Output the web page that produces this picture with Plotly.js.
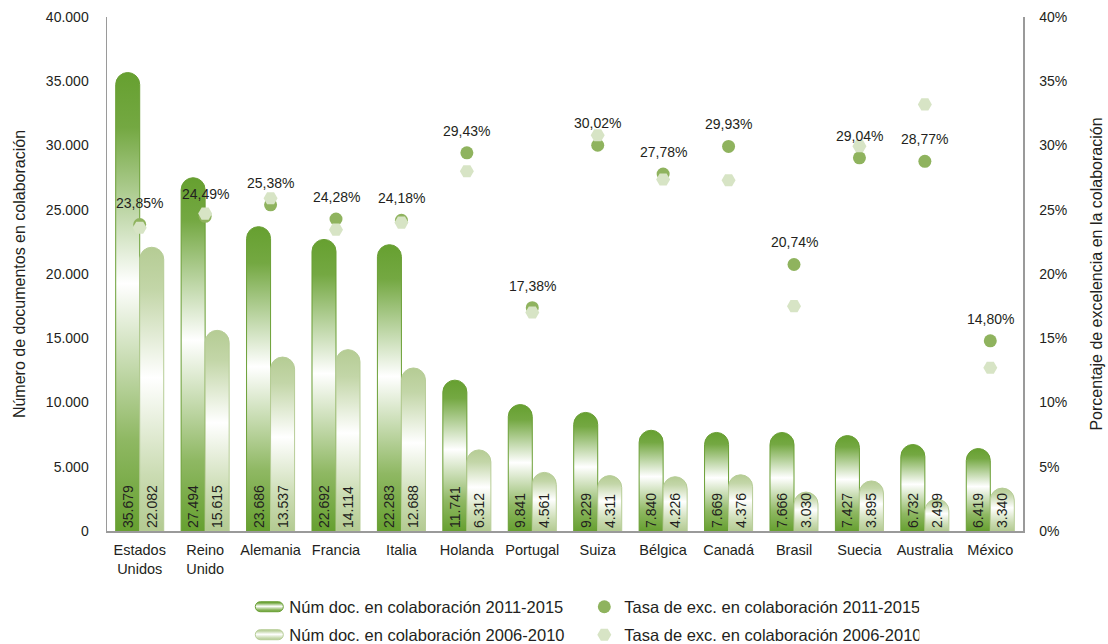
<!DOCTYPE html>
<html><head><meta charset="utf-8">
<script src="https://cdn.plot.ly/plotly-3.0.1.min.js"></script>
<style>html,body{margin:0;padding:0;background:#fff}#chart{width:1108px;height:644px}</style>
</head><body><div id="chart"></div>
<script>
const countries = ['Estados<br>Unidos','Reino<br>Unido','Alemania','Francia','Italia','Holanda','Portugal','Suiza','Bélgica','Canadá','Brasil','Suecia','Australia','México'];
const docs2011_2015 = [35679, 27494, 23686, 22692, 22283, 11741, 9841, 9229, 7840, 7669, 7666, 7427, 6732, 6419];
const docs2006_2010 = [22082, 15615, 13537, 14114, 12688, 6312, 4561, 4311, 4226, 4376, 3030, 3895, 2499, 3340];
const rate2011_2015 = [23.85, 24.49, 25.38, 24.28, 24.18, 29.43, 17.38, 30.02, 27.78, 29.93, 20.74, 29.04, 28.77, 14.80];
const rate2006_2010 = [23.6, 24.7, 25.9, 23.45, 24.0, 28.0, 17.0, 30.8, 27.35, 27.3, 17.5, 29.95, 33.2, 12.7];
const seriesNames = ['Núm doc. en colaboración 2011-2015','Tasa de exc. en colaboración 2011-2015','Núm doc. en colaboración 2006-2010','Tasa de exc. en colaboración 2006-2010'];

const FONT = 'Liberation Sans, Arial, sans-serif';
const TXT = '#231f20';

const traces = [
  {type:'bar', name:seriesNames[0], legend:'legend', x:countries, y:docs2011_2015, yaxis:'y',
   marker:{color:'#6a9f35', line:{color:'#6a9f35', width:1}, cornerradius:'50%'},
   texttemplate:'%{y:,d}', textposition:'inside', insidetextanchor:'start', textangle:-90,
   constraintext:'none', insidetextfont:{color:TXT, size:14, family:FONT}, hoverinfo:'skip'},
  {type:'scatter', mode:'markers', name:seriesNames[1], legend:'legend', x:countries, y:rate2011_2015, yaxis:'y2',
   marker:{color:'#8fb35e', size:13, symbol:'circle'}, hoverinfo:'skip'},
  {type:'bar', name:seriesNames[2], legend:'legend2', x:countries, y:docs2006_2010, yaxis:'y',
   marker:{color:'#b7cd97', line:{color:'#b7cd97', width:1}, cornerradius:'50%'},
   texttemplate:'%{y:,d}', textposition:'inside', insidetextanchor:'start', textangle:-90,
   constraintext:'none', insidetextfont:{color:TXT, size:14, family:FONT}, hoverinfo:'skip'},
  {type:'scatter', mode:'markers', name:seriesNames[3], legend:'legend2', x:countries, y:rate2006_2010, yaxis:'y2',
   marker:{color:'#d7e4c5', size:14, symbol:'hexagon2'}, hoverinfo:'skip'}
];

const annotations = countries.map((c,i)=>({
  x:c, y:rate2011_2015[i], xref:'x', yref:'y2', yshift:22, showarrow:false,
  text: rate2011_2015[i].toFixed(2).replace('.', ',') + '%',
  font:{family:FONT, size:14, color:TXT}
}));

const legBase = {orientation:'h', xref:'container', yref:'container', xanchor:'left', yanchor:'middle',
  x:0.225, entrywidth:290, entrywidthmode:'pixels', traceorder:'normal', bgcolor:'rgba(0,0,0,0)',
  font:{family:FONT, size:16.5, color:TXT}};

const layout = {
  width:1108, height:644,
  margin:{l:107, r:85, t:17, b:113, autoexpand:false},
  separators:',.',
  font:{family:FONT, size:14, color:TXT},
  paper_bgcolor:'#fff', plot_bgcolor:'#fff',
  barmode:'group', bargap:0.266, bargroupgap:0,
  uniformtext:{mode:'show', minsize:14},
  showlegend:true,
  legend:Object.assign({}, legBase, {y:(644-607)/644}),
  legend2:Object.assign({}, legBase, {y:(644-635)/644}),
  xaxis:{type:'category', range:[-0.5, countries.length-0.5], showline:true, linecolor:'#9a9a9a', linewidth:1.5,
         ticks:'', automargin:false, ticklabelstandoff:5,
         showgrid:false, tickfont:{size:14.5}, fixedrange:true},
  yaxis:{range:[0,40000], dtick:5000, tickformat:',d', showline:true, linecolor:'#9a9a9a', linewidth:1.5,
         showgrid:false, zeroline:false, ticks:'', ticklabelstandoff:14, automargin:false,
         title:{text:'Número de documentos en colaboración', standoff:16, font:{size:16}}},
  yaxis2:{overlaying:'y', side:'right', range:[0,40], dtick:5, ticksuffix:'%', showline:true, automargin:false,
          linecolor:'#9a9a9a', linewidth:1.5, showgrid:false, zeroline:false, ticks:'', ticklabelstandoff:12,
          title:{text:'Porcentaje de excelencia en la colaboración', standoff:24, font:{size:16}}},
  annotations:annotations
};

const NS = 'http://www.w3.org/2000/svg';
const PILL = 'M-9,-5H9A5,5 0 0 1 9,5H-9A5,5 0 0 1 -9,-5Z';
const DARK_RGB = 'rgb(106, 159, 53)';
const LIGHT_RGB = 'rgb(183, 205, 151)';

function ensureGradients(gd){
  if(document.getElementById('gDark')) return;
  const svg = gd.querySelector('svg.main-svg');
  if(!svg) return;
  let defs = svg.querySelector('defs');
  if(!defs){ defs = document.createElementNS(NS,'defs'); svg.insertBefore(defs, svg.firstChild); }
  function grad(id, stops){
    const g = document.createElementNS(NS,'linearGradient');
    g.setAttribute('id', id);
    g.setAttribute('x1','0'); g.setAttribute('y1','0');
    g.setAttribute('x2','0'); g.setAttribute('y2','1');
    stops.forEach(s=>{
      const st = document.createElementNS(NS,'stop');
      st.setAttribute('offset', s[0]); st.setAttribute('stop-color', s[1]);
      g.appendChild(st);
    });
    defs.appendChild(g);
  }
  grad('gDark', [[0,'#66a030'],[0.12,'#74a842'],[0.46,'#ffffff'],[0.8,'#8fb863'],[1,'#66a030']]);
  grad('gLight', [[0,'#b5cc94'],[0.15,'#c3d6a8'],[0.46,'#ffffff'],[0.8,'#cbdcb3'],[1,'#b3ca92']]);
}

function setStyle(p, prop, val){
  if(p.style.getPropertyValue(prop) !== val) p.style.setProperty(prop, val);
}

function pillify(p, id){
  if(p.getAttribute('d') !== PILL) p.setAttribute('d', PILL);
  setStyle(p, 'fill', 'url("#'+id+'")');
  setStyle(p, 'stroke', id==='gDark' ? DARK_RGB : LIGHT_RGB);
  setStyle(p, 'stroke-width', '1px');
}

function styleAll(gd){
  ensureGradients(gd);
  gd.querySelectorAll('.barlayer .trace').forEach((t,i)=>{
    const id = i===0 ? 'gDark' : 'gLight';
    t.querySelectorAll('.point path').forEach(p=>setStyle(p, 'fill', 'url("#'+id+'")'));
  });
  // legend bar symbols: any small square path outside the plot layers drawn in a bar colour
  gd.querySelectorAll('path').forEach(p=>{
    if(p.closest('.barlayer')) return;
    const f = (p.style.getPropertyValue('fill') || p.getAttribute('fill') || '').replace(/\s+/g,'');
    let id = null;
    if(f === DARK_RGB.replace(/\s+/g,'') || f === '#6a9f35') id = 'gDark';
    else if(f === LIGHT_RGB.replace(/\s+/g,'') || f === '#b7cd97') id = 'gLight';
    if(!id) return;
    const d = p.getAttribute('d') || '';
    if(/^M6,6H-6V-6H6Z$/i.test(d.replace(/\s+/g,'')) || p.closest('.legendpoints')) pillify(p, id);
  });
  gd.querySelectorAll('.legendtext').forEach(txt=>{
    const name = txt.textContent.trim();
    if(name.indexOf('Núm doc') !== 0) return;
    const id = name.indexOf('2011') >= 0 ? 'gDark' : 'gLight';
    txt.parentNode.querySelectorAll('.legendpoints path').forEach(p=>pillify(p, id));
  });
}

const gdEl = document.getElementById('chart');
let busy = false;
let count = 0;
const obs = new MutationObserver(()=>{
  if(busy || count > 500) return; busy = true; count++;
  try { styleAll(gdEl); } finally { busy = false; }
});
obs.observe(gdEl, {childList:true, subtree:true, attributes:true, attributeFilter:['d','style']});
Plotly.newPlot(gdEl, traces, layout, {displayModeBar:false, staticPlot:true}).then(gd=>{
  styleAll(gd);
  requestAnimationFrame(()=>styleAll(gd));
  setTimeout(()=>styleAll(gd), 30);
});
</script>
</body></html>
